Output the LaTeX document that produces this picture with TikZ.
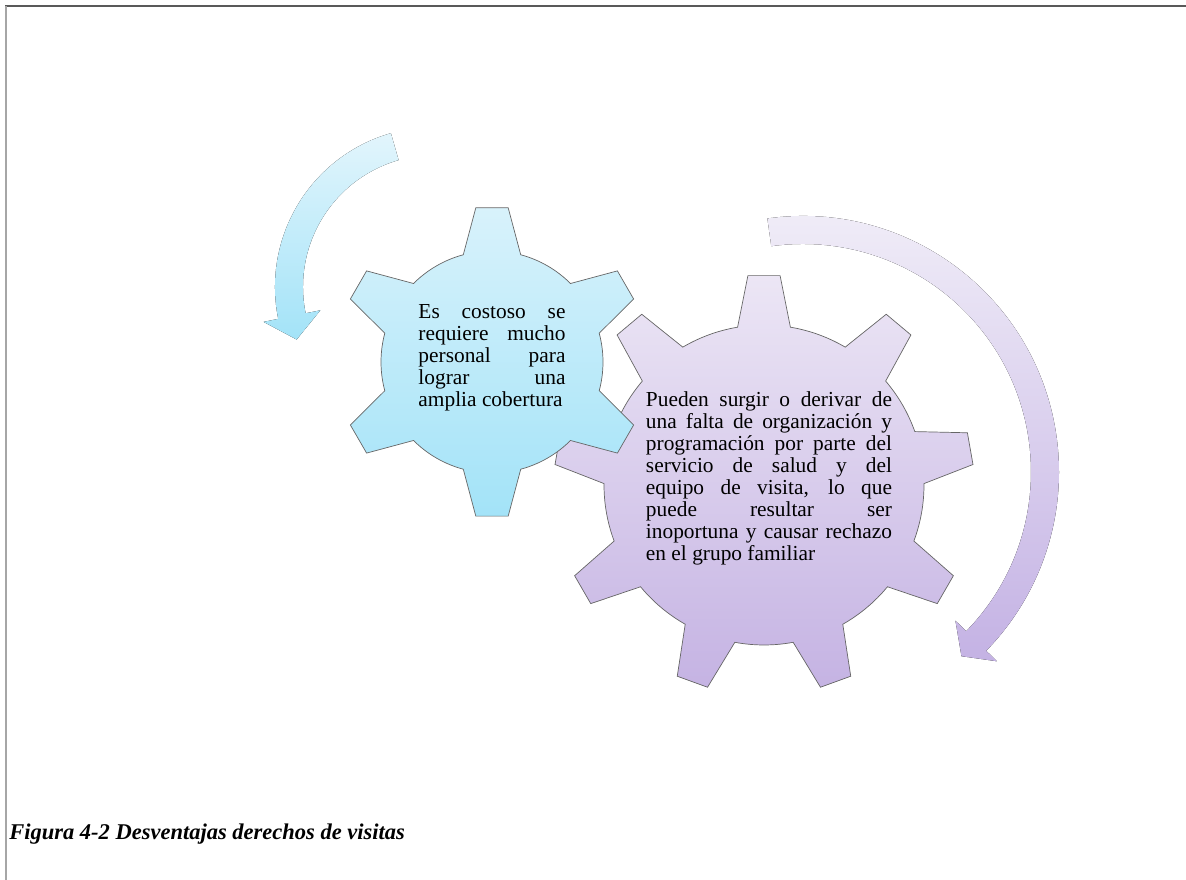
\documentclass[tikz,border=0pt]{standalone}
\usepackage{fontspec}
\setmainfont{Liberation Serif}
\usepackage{tikz}

\definecolor{cyantop}{HTML}{D8F2FB}
\definecolor{cyanbot}{HTML}{A3E3F8}
\definecolor{cyanfade}{HTML}{E2F5FC}
\definecolor{lilatop}{HTML}{ECE6F5}
\definecolor{lilabot}{HTML}{C5B3E3}
\definecolor{lilafade}{HTML}{F1EEF8}
\definecolor{lilaarr}{HTML}{C4B2E4}

\tolerance=10000
\hyphenpenalty=10000

\begin{document}
\begin{tikzpicture}[x=0.025cm,y=0.025cm,
        gear/.style={draw=black!60,line width=0.5pt},
        cyangear/.style={gear,top color=cyantop,bottom color=cyanbot},
        lilagear/.style={gear,top color=lilatop,bottom color=lilabot},
        cyanarrow/.style={top color=cyanfade,bottom color=cyanbot},
        lilaarrow/.style={top color=lilafade,bottom color=lilaarr},
        txt/.style={text width=#1,inner sep=0pt,font=\fontsize{15.2}{15.65}\selectfont,
            execute at begin node={\rightskip=0pt\relax\spaceskip=0pt\relax}}]
        \path[use as bounding box] (0,0) rectangle (1186,880);

        % frame
        \draw[line width=1.1pt,black!65] (5,874) -- (1186,874);
        \draw[line width=1.4pt,black!35] (6,874) -- (6,0);

        \coordinate (c1) at (492,518);
        \coordinate (c2) at (764,395);
        \coordinate (a1) at (435,593);
        \coordinate (a2) at (803,408);

        % curved arrows
        \fill[cyanarrow,shift={(a1)}] (106:160) arc[start angle=106,end angle=191.5,radius=160]
            -- (191.5:175) -- (200.8:148) -- (191.5:117) -- (191.5:132)
            arc[start angle=191.5,end angle=106,radius=132] -- cycle;
        \fill[lilaarrow,shift={(a2)}] (98:256) arc[start angle=98,end angle=-44.3,radius=256]
            -- (-44.3:271) -- (-49.3:243) -- (-44.3:213) -- (-44.3:228)
            arc[start angle=-44.3,end angle=98,radius=228] -- cycle;

        % gears
        \draw[lilagear,shift={(c2)}] (0.5:160)
            \foreach \a in {10,50,...,330} {
                -- ({\a-4.4}:210) -- ({\a+4.4}:210) -- ({\a+9.5}:160)
                arc[start angle={\a+9.5},end angle={\a+30.5},radius=160]
            } -- cycle;
        \draw[cyangear,shift={(c1)}] (15:111)
            \foreach \a in {30,90,...,330} {
                -- ({\a-6}:155) -- ({\a+6}:155) -- ({\a+15}:111)
                arc[start angle={\a+15},end angle={\a+45},radius=111]
            } -- cycle;

        \node[txt=3.675cm] (txt1) at (492,522)
            {Es costoso se\linebreak requiere mucho\linebreak personal para\linebreak
             lograr una\linebreak amplia cobertura};
        \node[txt=6.15cm] (txt2) at (769,402)
            {Pueden surgir o derivar de\linebreak una falta de organización y\linebreak
             programación por parte del\linebreak servicio de salud y del\linebreak
             equipo de visita, lo que\linebreak puede resultar ser\linebreak
             inoportuna y causar rechazo\linebreak en el grupo familiar};

        \node[anchor=base west,inner sep=0pt,font=\fontsize{16}{19}\selectfont\bfseries\itshape]
            (cap) at (9,40) {Figura 4-2 Desventajas derechos de visitas};
\end{tikzpicture}
\end{document}
